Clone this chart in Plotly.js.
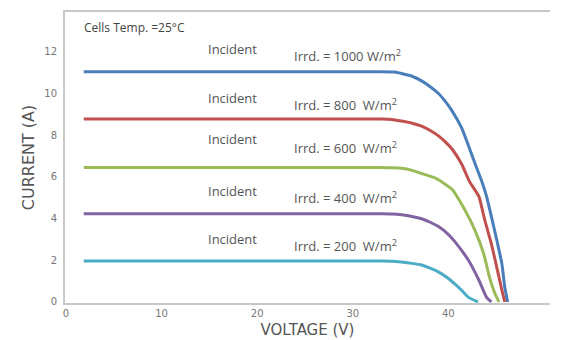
<!DOCTYPE html>
<html>
<head>
<meta charset="utf-8">
<script src="https://cdn.plot.ly/plotly-3.0.1.min.js"></script>
<style>html,body{margin:0;padding:0;background:#fff;}#chart{width:588px;height:340px;}</style>
</head>
<body>
<div id="chart"></div>
<script>
// Irradiance levels (W/m^2)
const irradiance = [1000, 800, 600, 400, 200];
const seriesColors = ['#4a7ebb', '#c0504d', '#9bbb59', '#8064a2', '#4bacc6'];

// Voltage (V) / Current (A)
const v1000 = [1.86, 10, 20, 30, 33, 34.4, 35.1, 36.2, 37.2, 38.1, 39.0, 39.7, 40.4, 41.4, 42.2, 42.97, 43.5, 44.0, 44.5, 45.06, 45.6, 45.9, 46.2];
const i1000 = [11.04, 11.04, 11.04, 11.04, 11.04, 11.02, 10.95, 10.82, 10.6, 10.32, 9.98, 9.6, 9.15, 8.33, 7.37, 6.41, 5.78, 5.05, 4.09, 2.98, 1.82, 0.71, 0];

const v800 = [1.86, 10, 20, 30, 33, 34.1, 35.1, 36.2, 37.2, 38.1, 39.0, 39.7, 40.4, 41.4, 42.2, 43.2, 43.8, 44.5, 45.06, 45.6, 45.9];
const i800 = [8.77, 8.77, 8.77, 8.77, 8.77, 8.75, 8.67, 8.57, 8.43, 8.22, 7.95, 7.66, 7.32, 6.6, 5.78, 5.05, 3.94, 2.78, 1.67, 0.56, 0];

const v600 = [1.86, 10, 20, 30, 33.0, 34.1, 35.1, 36.2, 37.2, 38.0, 38.8, 39.6, 40.4, 41.7, 42.76, 43.7, 44.3, 44.9, 45.3];
const i600 = [6.45, 6.45, 6.45, 6.45, 6.44, 6.43, 6.41, 6.31, 6.16, 6.04, 5.9, 5.67, 5.39, 4.43, 3.46, 2.3, 1.19, 0.37, 0];

const v400 = [1.86, 10, 20, 30, 33, 34.1, 35.1, 36.2, 37.2, 38.1, 39.0, 39.9, 40.7, 41.4, 42.1, 43.2, 44.0, 44.5];
const i400 = [4.23, 4.23, 4.23, 4.23, 4.23, 4.22, 4.18, 4.1, 3.99, 3.82, 3.6, 3.28, 2.88, 2.46, 2.0, 1.04, 0.22, 0];

const v200 = [1.86, 10, 20, 30, 33, 34.1, 35.1, 36.2, 37.2, 38.1, 39.0, 39.9, 40.7, 41.4, 42.1, 43.1];
const i200 = [1.96, 1.96, 1.96, 1.96, 1.96, 1.95, 1.91, 1.85, 1.77, 1.62, 1.43, 1.16, 0.85, 0.55, 0.22, 0];

const xTicks = [0, 10, 20, 30, 40];
const yTicks = [0, 2, 4, 6, 8, 10, 12];

const volts = [v1000, v800, v600, v400, v200];
const amps = [i1000, i800, i600, i400, i200];

const traces = irradiance.map((g, k) => ({
  type: 'scatter', mode: 'lines',
  x: volts[k], y: amps[k],
  name: g + ' W/m²',
  line: {color: seriesColors[k], width: 3, shape: 'spline', smoothing: 0.4},
  hoverinfo: 'x+y'
}));

const incidentY = [12.15, 9.79, 7.81, 5.34, 3.02];
const irrdY = [11.82, 9.45, 7.42, 5.0, 2.73];
const txtFont = {family: 'Open Sans, sans-serif', size: 13, color: '#555'};
const annotations = [];
irradiance.forEach((g, k) => {
  annotations.push({x: 17.45, y: incidentY[k], xref: 'x', yref: 'y', text: 'Incident',
    showarrow: false, xanchor: 'center', yanchor: 'middle', font: txtFont});
  const sp = g >= 1000 ? ' ' : '\u00a0\u00a0';
  annotations.push({x: 23.6, y: irrdY[k], xref: 'x', yref: 'y',
    text: 'Irrd. = ' + g + sp + 'W/m<sup>2</sup>',
    showarrow: false, xanchor: 'left', yanchor: 'middle', font: txtFont});
});
annotations.push({x: 1.65, y: 13.17, xref: 'x', yref: 'y', text: 'Cells Temp. =25°C',
  showarrow: false, xanchor: 'left', yanchor: 'middle',
  font: {family: 'Open Sans, sans-serif', size: 12, color: '#444'}});

const layout = {
  width: 588, height: 340,
  margin: {l: 65, r: 38, t: 12, b: 37},
  paper_bgcolor: '#fff', plot_bgcolor: '#fff',
  showlegend: false,
  xaxis: {
    range: [-0.1, 50.63], tickvals: xTicks, ticktext: xTicks.map(String),
    showgrid: false, zeroline: false, showline: true, mirror: true,
    linecolor: '#c8c8c8', linewidth: 2, ticks: '',
    tickfont: {family: 'DejaVu Sans, sans-serif', size: 10, color: '#777'},
    title: {text: 'VOLTAGE (V)', standoff: 6,
      font: {family: 'DejaVu Sans, sans-serif', size: 15, color: '#555'}}
  },
  yaxis: {
    range: [-0.05, 13.9], tickvals: yTicks, ticktext: yTicks.map(String),
    showgrid: false, zeroline: false, showline: true,
    linecolor: '#c8c8c8', linewidth: 2, ticks: '',
    ticklabelstandoff: 4,
    tickfont: {family: 'DejaVu Sans, sans-serif', size: 10, color: '#777'},
    title: {text: 'CURRENT (A)', standoff: 6,
      font: {family: 'DejaVu Sans, sans-serif', size: 16, color: '#555'}}
  },
  annotations: annotations
};

Plotly.newPlot('chart', traces, layout, {displayModeBar: false, staticPlot: true});
</script>
</body>
</html>
